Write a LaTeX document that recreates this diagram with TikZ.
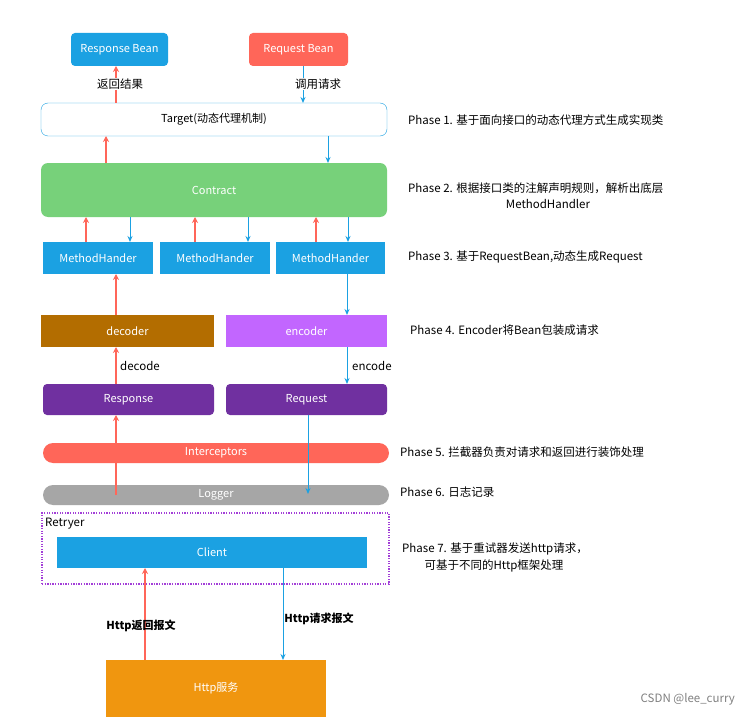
\documentclass[tikz,border=0pt]{standalone}
\usepackage{fontspec}
\setmainfont{Noto Sans CJK SC}
\usetikzlibrary{arrows.meta}
\begin{document}
\begin{tikzpicture}[x=1pt,y=-1pt,
 box/.style={draw=none,minimum height=#1,inner sep=0pt,text=white,font=\fontsize{11}{13}\selectfont},
 lbl/.style={font=\fontsize{11.5}{13}\selectfont,inner sep=1pt},
 ph/.style={font=\fontsize{11.5}{14}\selectfont,anchor=west,inner sep=0pt,align=center}]
\useasboundingbox (0,0) rectangle (740,717);
\fill[white] (0,0) rectangle (740,717);
\definecolor{cblue}{HTML}{1BA1E2}
\definecolor{cred}{HTML}{FF6659}
\definecolor{cgreen}{HTML}{77D17A}
\definecolor{cbrown}{HTML}{B36D00}
\definecolor{cpink}{HTML}{C266FF}
\definecolor{cpurple}{HTML}{7030A0}
\definecolor{cdot}{HTML}{A33FD8}
\definecolor{cgray}{HTML}{A6A6A6}
\definecolor{corange}{HTML}{F0960F}
\tikzset{ra/.style={draw=cred,line width=1.3pt,-{Stealth[length=6pt,width=6pt]}},
 ba/.style={draw=cblue,line width=1pt,-{Stealth[length=6pt,width=5pt]}}}
\node[box=33pt,minimum width=97pt,fill=cblue,rounded corners=4pt] (rb) at (119.5,49.5) {Response Bean};
\node[box=33pt,minimum width=99pt,fill=cred,rounded corners=4pt] (qb) at (298.5,49.5) {Request Bean};
\node[box=33pt,minimum width=346pt,fill=white,draw=cblue,rounded corners=7pt,text=black] (tg) at (214,119.5) {Target(动态代理机制)};
\node[box=54pt,minimum width=346pt,fill=cgreen,rounded corners=7pt] (ct) at (214,190) {Contract};
\node[box=32pt,minimum width=110pt,fill=cblue] (m1) at (98,258) {MethodHander};
\node[box=32pt,minimum width=110pt,fill=cblue] (m2) at (215,258) {MethodHander};
\node[box=32pt,minimum width=109pt,fill=cblue] (m3) at (330.5,258) {MethodHander};
\node[box=32pt,minimum width=173pt,fill=cbrown] (dc) at (127.5,331) {decoder};
\node[box=32pt,minimum width=161pt,fill=cpink] (ec) at (306.5,331) {encoder};
\node[box=31pt,minimum width=171pt,fill=cpurple,rounded corners=4pt] (rs) at (128.5,399.5) {Response};
\node[box=31pt,minimum width=161pt,fill=cpurple,rounded corners=4pt] (rq) at (306.5,399.5) {Request};
\node[box=20pt,minimum width=346pt,fill=cred,rounded corners=10pt] (ic) at (216,453) {Interceptors};
\node[box=20pt,minimum width=346pt,fill=cgray,rounded corners=10pt] (lg) at (216,495) {Logger};
\node[draw=cdot,dash pattern=on 1.3pt off 1.3pt,line width=1.3pt,minimum width=347pt,minimum height=71pt,inner sep=0pt] (rt) at (215.5,548.5) {};
\node[lbl,anchor=west] (rtl) at (44,524) {Retryer};
\node[box=31pt,minimum width=310pt,fill=cblue] (cl) at (212,552.5) {Client};
\node[box=57pt,minimum width=220pt,fill=corange] (hs) at (216,688.5) {Http服务};
% arrows
\draw[ra] (116,103) -- (116,66);
\draw[ba] (303,66) -- (303,103);
\draw[ra] (106,163) -- (106,136);
\draw[ba] (328,136) -- (328,163);
\foreach \r/\b in {86/130,195/248,316/348}{
 \draw[ra] (\r,242) -- (\r,217);
 \draw[ba] (\b,217) -- (\b,242);}
\draw[ra] (116,315) -- (116,274);
\draw[ba] (347,274) -- (347,315);
\draw[ra] (116,384) -- (116,347);
\draw[ra] (116,495) -- (116,415);
\draw[ba] (347,347) -- (347,384);
\draw[ba] (308,415) -- (308,494);
\draw[ra] (145,660) -- (145,568);
\draw[ba] (283,568) -- (283,660);
\node[lbl,fill=white] (l1) at (120,84) {返回结果};
\node[lbl,fill=white] (l2) at (318,84) {调用请求};
\node[lbl,anchor=west] (dl) at (119,366) {decode};
\node[lbl,anchor=west] (el) at (351,366) {encode};
\node[lbl,font=\bfseries\fontsize{11}{13}\selectfont] (hl1) at (141,626) {Http返回报文};
\node[lbl,font=\bfseries\fontsize{11}{13}\selectfont] (hl2) at (319,619) {Http请求报文};
% phases
\node[ph] (p1) at (408,120) {Phase 1. 基于面向接口的动态代理方式生成实现类};
\node[ph] (p2) at (408,188) {Phase 2. 根据接口类的注解声明规则，解析出底层};
\node[lbl] (p2b) at (548,204) {MethodHandler};
\node[ph] (p3) at (408,257) {Phase 3. 基于RequestBean,动态生成Request};
\node[ph] (p4) at (410,330) {Phase 4. Encoder将Bean包装成请求};
\node[ph] (p5) at (400,452) {Phase 5. 拦截器负责对请求和返回进行装饰处理};
\node[ph] (p6) at (400,492) {Phase 6. 日志记录};
\node[ph] (p7) at (402,549) {Phase 7. 基于重试器发送http请求，};
\node[lbl] (p7b) at (494,566) {可基于不同的Http框架处理};
\node[lbl,text=gray,anchor=east] (cs) at (736,699) {CSDN @lee\_curry};
\end{tikzpicture}
\end{document}
